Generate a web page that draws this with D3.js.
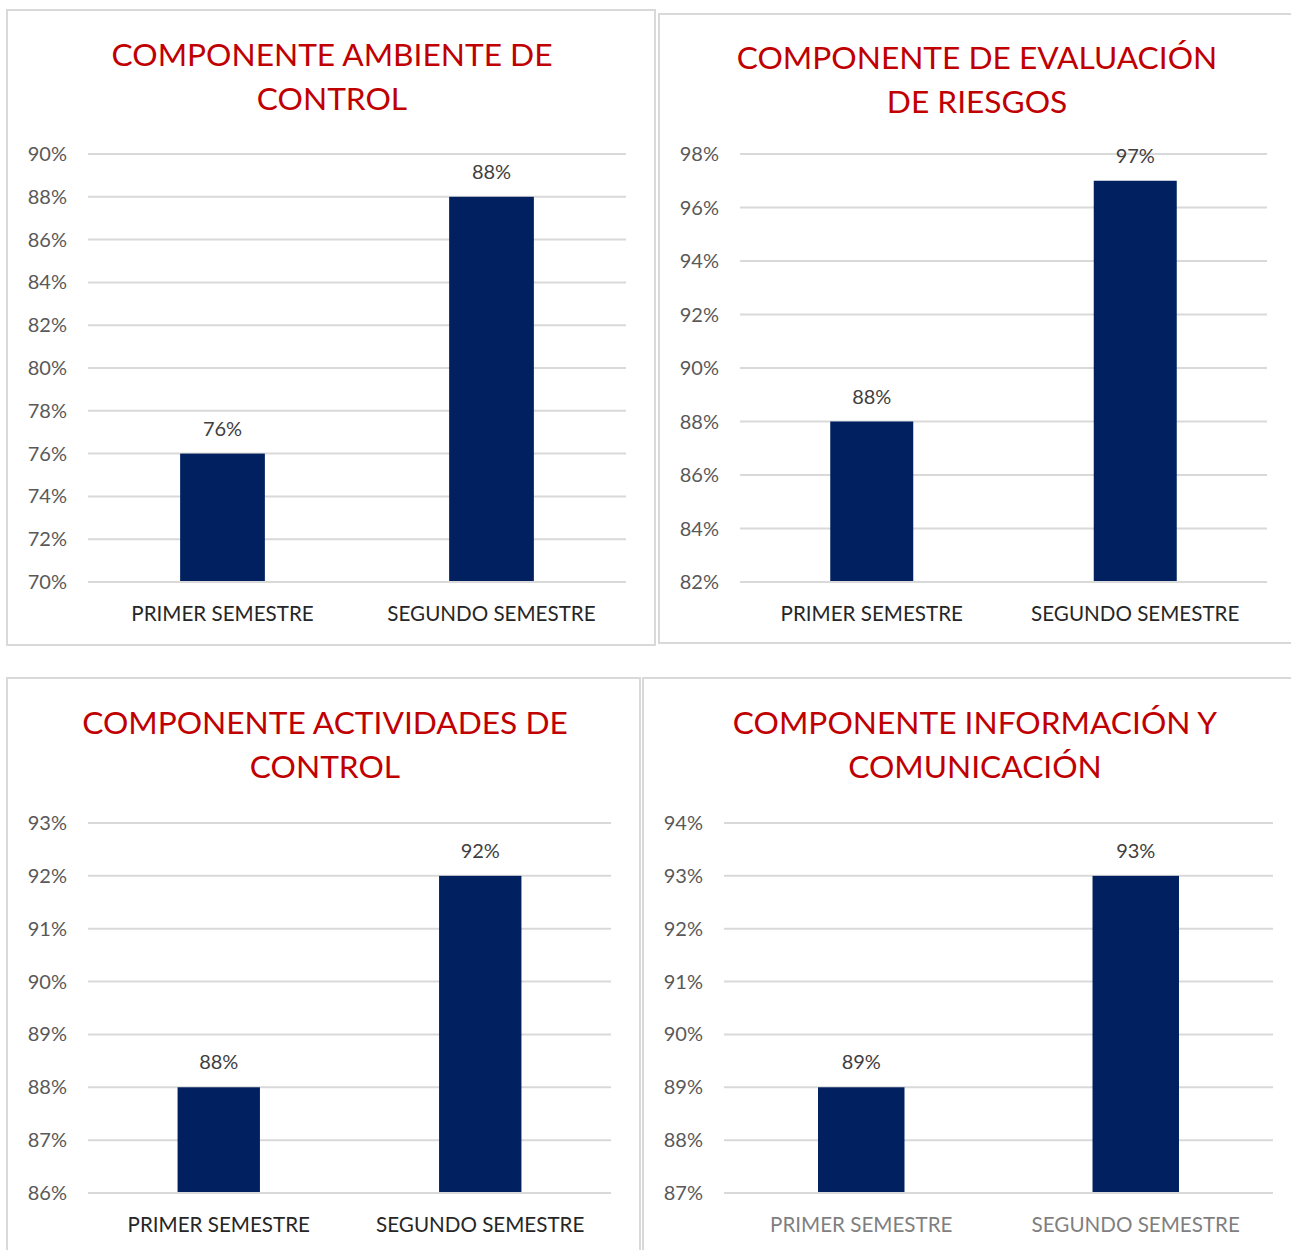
<!DOCTYPE html>
<html>
<head>
<meta charset="utf-8">
<script src="https://cdn.jsdelivr.net/npm/d3@7"></script>
<style>
  body { margin: 0; background: #fff; }
  svg { display: block; font-family: Lato, "Open Sans", sans-serif; }
  .frame { fill: #fff; stroke: #d9d9d9; stroke-width: 2; }
  .grid line { stroke: #d9d9d9; stroke-width: 2; }
  .tick-label { fill: #595959; font-size: 20px; }
  .value-label { fill: #404040; font-size: 20px; }
  .title { fill: #c00000; font-size: 31.7px; }
</style>
</head>
<body>
<svg width="1291" height="1250"></svg>
<script>
(function() {
  const categories = ["PRIMER SEMESTRE", "SEGUNDO SEMESTRE"];

  const titles = [
    ["COMPONENTE AMBIENTE DE", "CONTROL"],
    ["COMPONENTE DE EVALUACIÓN", "DE RIESGOS"],
    ["COMPONENTE ACTIVIDADES DE", "CONTROL"],
    ["COMPONENTE INFORMACIÓN Y", "COMUNICACIÓN"]
  ];

  const ambienteControl = [76, 88];
  const evaluacionRiesgos = [88, 97];
  const actividadesControl = [88, 92];
  const informacionComunicacion = [89, 93];

  const yDomains = [[70, 90], [82, 98], [86, 93], [87, 94]];
  const tickSteps = [2, 2, 1, 1];

  const series = [ambienteControl, evaluacionRiesgos, actividadesControl, informacionComunicacion];

  // where each panel sits on the page
  const layout = [
    { frame: [7, 10, 648, 635], titleX: 332, titleY: 55, x0: 88, x1: 626, y0: 582, y1: 154, catColor: "#262626" },
    { frame: [659, 14, 650, 629], titleX: 977, titleY: 58, x0: 740, x1: 1267, y0: 582, y1: 154, catColor: "#262626" },
    { frame: [7, 678, 633, 590], titleX: 325, titleY: 723, x0: 88, x1: 611, y0: 1193, y1: 823, catColor: "#262626" },
    { frame: [643, 678, 670, 590], titleX: 975, titleY: 723, x0: 724, x1: 1273, y0: 1193, y1: 823, catColor: "#7f7f7f" }
  ];

  const svg = d3.select("svg");

  for (let i = 0; i < 4; i++) {
    render(i);
  }

  function render(i) {
    const L = layout[i];
    const g = svg.append("g");

    g.append("rect")
      .attr("class", "frame")
      .attr("x", L.frame[0])
      .attr("y", L.frame[1])
      .attr("width", L.frame[2])
      .attr("height", L.frame[3]);

    g.selectAll(".title")
      .data(titles[i])
      .enter()
      .append("text")
      .attr("class", "title")
      .attr("x", L.titleX)
      .attr("y", (d, k) => L.titleY + k * 44)
      .attr("dy", "0.35em")
      .attr("text-anchor", "middle")
      .text(d => d);

    const x = d3.scaleBand()
      .domain(categories)
      .range([L.x0, L.x1])
      .paddingInner(0.685)
      .paddingOuter(0.3425);

    const y = d3.scaleLinear()
      .domain(yDomains[i])
      .range([L.y0, L.y1]);

    const ticks = d3.range(yDomains[i][0], yDomains[i][1] + 0.001, tickSteps[i]);

    const grid = g.append("g").attr("class", "grid");
    grid.selectAll("line")
      .data(ticks)
      .enter()
      .append("line")
      .attr("x1", L.x0)
      .attr("x2", L.x1)
      .attr("y1", d => y(d))
      .attr("y2", d => y(d));

    g.selectAll(".tick-label")
      .data(ticks)
      .enter()
      .append("text")
      .attr("class", "tick-label")
      .attr("x", L.x0 - 21)
      .attr("y", d => y(d))
      .attr("dy", "0.35em")
      .attr("text-anchor", "end")
      .text(d => d + "%");

    const data = categories.map((c, k) => ({ cat: c, value: series[i][k] }));

    g.selectAll(".bar")
      .data(data)
      .enter()
      .append("rect")
      .attr("class", "bar")
      .attr("fill", "#002060")
      .attr("x", d => x(d.cat))
      .attr("width", x.bandwidth())
      .attr("y", d => y(d.value))
      .attr("height", d => y(yDomains[i][0]) - y(d.value) - 1);

    g.selectAll(".value-label")
      .data(data)
      .enter()
      .append("text")
      .attr("class", "value-label")
      .attr("x", d => x(d.cat) + x.bandwidth() / 2)
      .attr("y", d => y(d.value) - 25)
      .attr("dy", "0.35em")
      .attr("text-anchor", "middle")
      .text(d => d.value + "%");

    g.selectAll(".cat-label")
      .data(categories)
      .enter()
      .append("text")
      .attr("class", "cat-label")
      .attr("x", d => x(d) + x.bandwidth() / 2)
      .attr("y", L.y0 + 32)
      .attr("dy", "0.35em")
      .attr("text-anchor", "middle")
      .attr("fill", L.catColor)
      .style("font-size", "20.6px")
      .text(d => d);
  }
})();
</script>
</body>
</html>
